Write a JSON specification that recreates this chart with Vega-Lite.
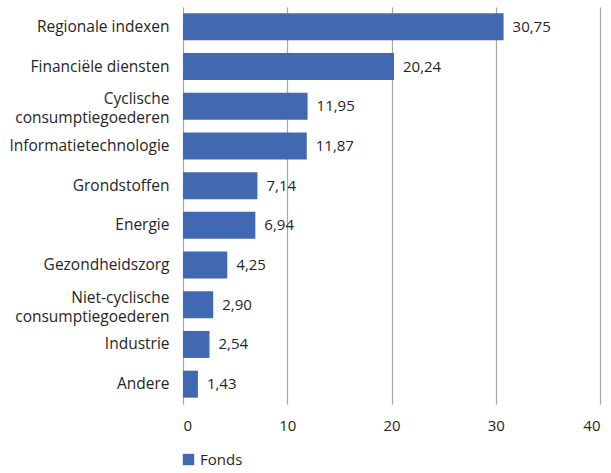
{
  "$schema": "https://vega.github.io/schema/vega-lite/v6.json",
  "width": 417,
  "height": 397,
  "autosize": {"type": "none"},
  "padding": {"left": 183, "top": 7, "right": 11, "bottom": 69},
  "background": "white",
  "data": {
    "values": [
      {"sector": "Regionale indexen", "value": 30.75, "series": "Fonds"},
      {"sector": "Financiële diensten", "value": 20.24, "series": "Fonds"},
      {"sector": "Cyclische|consumptiegoederen", "value": 11.95, "series": "Fonds"},
      {"sector": "Informatietechnologie", "value": 11.87, "series": "Fonds"},
      {"sector": "Grondstoffen", "value": 7.14, "series": "Fonds"},
      {"sector": "Energie", "value": 6.94, "series": "Fonds"},
      {"sector": "Gezondheidszorg", "value": 4.25, "series": "Fonds"},
      {"sector": "Niet-cyclische|consumptiegoederen", "value": 2.90, "series": "Fonds"},
      {"sector": "Industrie", "value": 2.54, "series": "Fonds"},
      {"sector": "Andere", "value": 1.43, "series": "Fonds"}
    ]
  },
  "encoding": {
    "y": {
      "field": "sector",
      "type": "nominal",
      "sort": null,
      "scale": {"paddingInner": 0.32, "paddingOuter": 0.16},
      "axis": {
        "title": null,
        "labelExpr": "split(datum.label, '|')",
        "labelOffset": {"condition": {"test": "indexof(datum.value, '|') >= 0", "value": -7}, "value": 0},
        "labelPadding": 14,
        "ticks": false,
        "domain": false,
        "labelFontSize": 15.5,
        "labelLineHeight": 19,
        "labelColor": "#262626",
        "labelLimit": 200
      }
    },
    "x": {
      "field": "value",
      "type": "quantitative",
      "scale": {"domain": [0, 40]},
      "axis": {
        "title": null,
        "values": [0, 10, 20, 30, 40],
        "format": "d",
        "grid": true,
        "gridColor": "#a6a6a6",
        "gridWidth": 1.2,
        "ticks": false,
        "domain": false,
        "labelPadding": 14,
        "labelFontSize": 15,
        "labelColor": "#262626"
      }
    }
  },
  "layer": [
    {
      "mark": {"type": "bar", "color": "#4169b1"},
      "encoding": {
        "color": {
          "field": "series",
          "type": "nominal",
          "scale": {"range": ["#4169b1"]},
          "legend": {
            "title": null,
            "orient": "none",
            "legendX": -2,
            "legendY": 445,
            "symbolType": "square",
            "symbolSize": 130,
            "symbolStrokeWidth": 0,
            "labelFontSize": 15,
            "labelColor": "#262626"
          }
        }
      }
    },
    {
      "mark": {"type": "text", "align": "left", "dx": 9, "fontSize": 15, "color": "#262626"},
      "encoding": {
        "text": {"field": "value", "type": "quantitative", "format": ".2f"}
      }
    }
  ],
  "config": {
    "font": "Open Sans",
    "view": {"stroke": null},
    "locale": {
      "number": {"decimal": ",", "thousands": ".", "grouping": [3], "currency": ["€", ""]}
    }
  }
}
